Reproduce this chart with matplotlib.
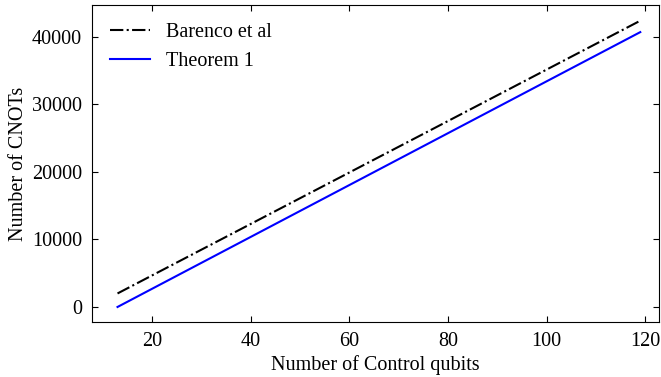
import matplotlib
matplotlib.use("Agg")
import matplotlib.pyplot as plt

# number of control qubits
controls = [13, 20, 40, 60, 80, 100, 119]
# CNOT counts
barenco = [2000, 4670, 12290, 19910, 27530, 35150, 42390]
theorem1 = [0, 2690, 10370, 18050, 25730, 33410, 40700]

plt.rcParams['font.family'] = ['Liberation Serif', 'DejaVu Serif']
plt.rcParams['font.size'] = 14.5

fig = plt.figure(figsize=(6.61, 3.77), dpi=100)
ax = fig.add_axes([0.139, 0.146, 0.858, 0.841])

ax.plot(controls, barenco, color='black', linestyle='-.', linewidth=1.5, label='Barenco et al')
ax.plot(controls, theorem1, color='blue', linestyle='-', linewidth=1.5, label='Theorem 1')

ax.set_xlim(7.8, 122.8)
ax.set_ylim(-2220, 44730)
ax.set_xticks([20, 40, 60, 80, 100, 120])
ax.set_yticks([0, 10000, 20000, 30000, 40000])
ax.tick_params(direction='in', top=True, right=True, length=4)
ax.tick_params(axis='x', pad=7)
ax.tick_params(axis='y', pad=7)
ax.set_xlabel('Number of Control qubits', labelpad=3)
ax.set_ylabel('Number of CNOTs', labelpad=3)
ax.legend(loc='upper left', frameon=False)

fig.savefig('out.png', dpi=100)
